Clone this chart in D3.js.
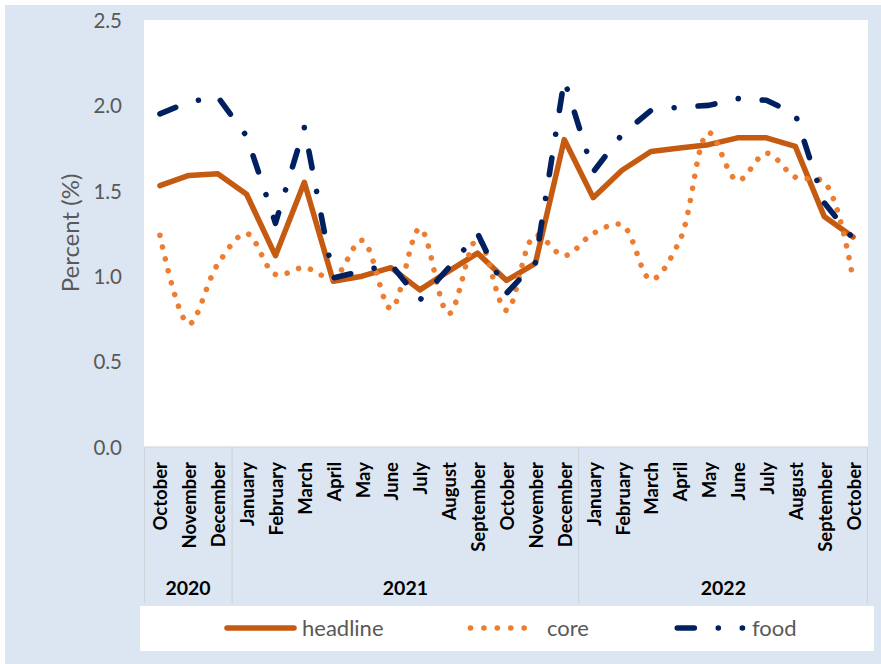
<!DOCTYPE html>
<html>
<head>
<meta charset="utf-8">
<script src="https://cdn.jsdelivr.net/npm/d3@7"></script>
<style>
  html, body { margin: 0; padding: 0; background: #ffffff; }
  svg { display: block; }
  text { font-family: Lato, "Open Sans", sans-serif; }
</style>
</head>
<body>
<svg id="chart" width="881" height="664"></svg>
<script>
// Monthly inflation, October 2020 – October 2022
const months = ["October", "November", "December",
  "January", "February", "March", "April", "May", "June", "July", "August",
  "September", "October", "November", "December",
  "January", "February", "March", "April", "May", "June", "July", "August",
  "September", "October"];
const yearLabels = ["2020", "2021", "2022"];
const yearSpans = [3, 12, 10];

const headline = [1.53, 1.59, 1.60, 1.48, 1.12, 1.55, 0.97, 1.00, 1.05, 0.92, 1.03, 1.135,
  0.975, 1.075, 1.80, 1.46, 1.62, 1.73, 1.75, 1.77, 1.81, 1.81, 1.76, 1.35, 1.23];
const core = [1.24, 0.72, 1.07, 1.25, 1.01, 1.05, 0.99, 1.21, 0.81, 1.28, 0.78, 1.22,
  0.80, 1.24, 1.12, 1.25, 1.30, 0.98, 1.21, 1.84, 1.56, 1.72, 1.58, 1.55, 0.98];
const food = [1.95, 2.02, 2.05, 1.82, 1.31, 1.87, 0.99, 1.03, 1.07, 0.86, 1.05, 1.25,
  0.90, 1.08, 2.15, 1.61, 1.83, 1.97, 1.99, 2.00, 2.04, 2.03, 1.95, 1.43, 1.22];

const yTicks = [0, 0.5, 1.0, 1.5, 2.0, 2.5];
const seriesNames = ["headline", "core", "food"];

const svg = d3.select("#chart");
const W = 881, H = 664;

const plot = { left: 144, right: 868, top: 20, bottom: 447 };
const axisBoxBottom = 603;

const idx = d3.range(months.length);
const x = d3.scaleBand().domain(idx).range([145.5, 867.5]).paddingInner(0).paddingOuter(0);
const xc = i => x(i) + x.bandwidth() / 2;
const y = d3.scaleLinear().domain([0, 2.5]).range([plot.bottom, plot.top]);

// Chart background
svg.append("rect").attr("x", 5).attr("y", 5).attr("width", W - 5).attr("height", H - 5)
  .attr("fill", "#dce6f2");

// Plot area
svg.append("rect").attr("x", plot.left).attr("y", plot.top)
  .attr("width", plot.right - plot.left).attr("height", plot.bottom - plot.top)
  .attr("fill", "#ffffff");

// Y axis tick labels
const yAxis = d3.axisLeft(y).tickValues(yTicks).tickFormat(d3.format(".1f")).tickSize(0).tickPadding(0);
const yg = svg.append("g").attr("transform", "translate(122,0)").call(yAxis);
yg.select(".domain").remove();
yg.selectAll("text").attr("font-size", 20.5).attr("fill", "#595959")
  .attr("font-family", "Lato, sans-serif").attr("dy", "0.36em");

svg.append("text")
  .attr("transform", "translate(79,233) rotate(-90)")
  .attr("text-anchor", "middle")
  .attr("font-size", 24).attr("fill", "#595959")
  .text("Percent (%)");

// Category axis box: grid lines between year groups
const gridColor = "#cfd4da";
svg.append("line").attr("x1", plot.left).attr("x2", plot.right)
  .attr("y1", plot.bottom).attr("y2", plot.bottom)
  .attr("stroke", gridColor).attr("stroke-width", 1.2);

let acc = 0;
const bounds = [0];
yearSpans.forEach(n => { acc += n; bounds.push(acc); });
bounds.forEach((b, k) => {
  const bx = k === 0 ? plot.left + 0.5 : (k === bounds.length - 1 ? plot.right - 0.5 : x(b));
  svg.append("line").attr("x1", bx).attr("x2", bx)
    .attr("y1", plot.bottom).attr("y2", axisBoxBottom)
    .attr("stroke", gridColor).attr("stroke-width", 1.2);
});

// Month labels (rotated)
const xAxis = d3.axisBottom(x).tickFormat(i => months[i]).tickSize(0);
const xg = svg.append("g").attr("transform", `translate(0,${plot.bottom})`).call(xAxis);
xg.select(".domain").remove();
xg.selectAll(".tick text")
  .attr("transform", "translate(7.5,15) rotate(-90)")
  .attr("x", 0).attr("y", 0).attr("dy", 0)
  .attr("text-anchor", "end")
  .attr("font-size", 18.5).attr("font-weight", "bold").attr("fill", "#000000")
  .attr("font-family", "Lato, sans-serif");

// Year labels
yearLabels.forEach((lab, k) => {
  const x0 = k === 0 ? plot.left : x(bounds[k]);
  const x1 = k === yearLabels.length - 1 ? plot.right : x(bounds[k + 1]);
  svg.append("text").attr("x", (x0 + x1) / 2).attr("y", 595)
    .attr("text-anchor", "middle").attr("font-size", 19.5).attr("font-weight", "bold")
    .attr("fill", "#000000").text(lab);
});

// Series lines
const linear = d3.line().x((d, i) => xc(i)).y(d => y(d)).curve(d3.curveLinear);
const smooth = d3.line().x((d, i) => xc(i)).y(d => y(d)).curve(d3.curveCatmullRom.alpha(0.5));

const styles = {
  headline: { color: "#c55a11", dash: null, width: 5.5 },
  core: { color: "#ed7d31", dash: "0.01 12.2", width: 5.6 },
  food: { color: "#002060", dash: "17 24 0.01 24", width: 5.6 }
};

svg.append("path").datum(headline).attr("d", linear)
  .attr("fill", "none").attr("stroke", styles.headline.color)
  .attr("stroke-width", styles.headline.width).attr("stroke-linejoin", "round")
  .attr("stroke-linecap", "round");

const corePath = svg.append("path").datum(core).attr("d", smooth)
  .attr("fill", "none").attr("stroke", styles.core.color)
  .attr("stroke-width", styles.core.width).attr("stroke-linecap", "round");
// round-dot pattern sized so that both ends of the curve carry a dot
const coreLen = corePath.node().getTotalLength();
const coreStep = coreLen / Math.round(coreLen / 12.2);
corePath.attr("stroke-dasharray", `0.01 ${coreStep - 0.01}`);

svg.append("path").datum(food).attr("d", linear)
  .attr("fill", "none").attr("stroke", styles.food.color)
  .attr("stroke-width", styles.food.width).attr("stroke-linecap", "round")
  .attr("stroke-linejoin", "round")
  .attr("stroke-dasharray", styles.food.dash);

// Legend
svg.append("rect").attr("x", 140).attr("y", 606).attr("width", 734).attr("height", 45)
  .attr("fill", "#ffffff");

const legendItems = [
  { name: seriesNames[0], x0: 227, x1: 294, tx: 302, dash: null },
  { name: seriesNames[1], x0: 470.5, x1: 537.5, tx: 547, dash: "0.01 13.4" },
  { name: seriesNames[2], x0: 677.3, x1: 742.5, tx: 752, dash: styles.food.dash }
];
const ly = 628;
legendItems.forEach(it => {
  const st = styles[it.name];
  const l = svg.append("line").attr("x1", it.x0).attr("x2", it.x1).attr("y1", ly).attr("y2", ly)
    .attr("stroke", st.color).attr("stroke-width", st.width).attr("stroke-linecap", "round");
  if (it.dash) l.attr("stroke-dasharray", it.dash);
  svg.append("text").attr("x", it.tx).attr("y", ly).attr("dy", "0.36em")
    .attr("font-size", 22).attr("fill", "#595959").text(it.name);
});
</script>
</body>
</html>
